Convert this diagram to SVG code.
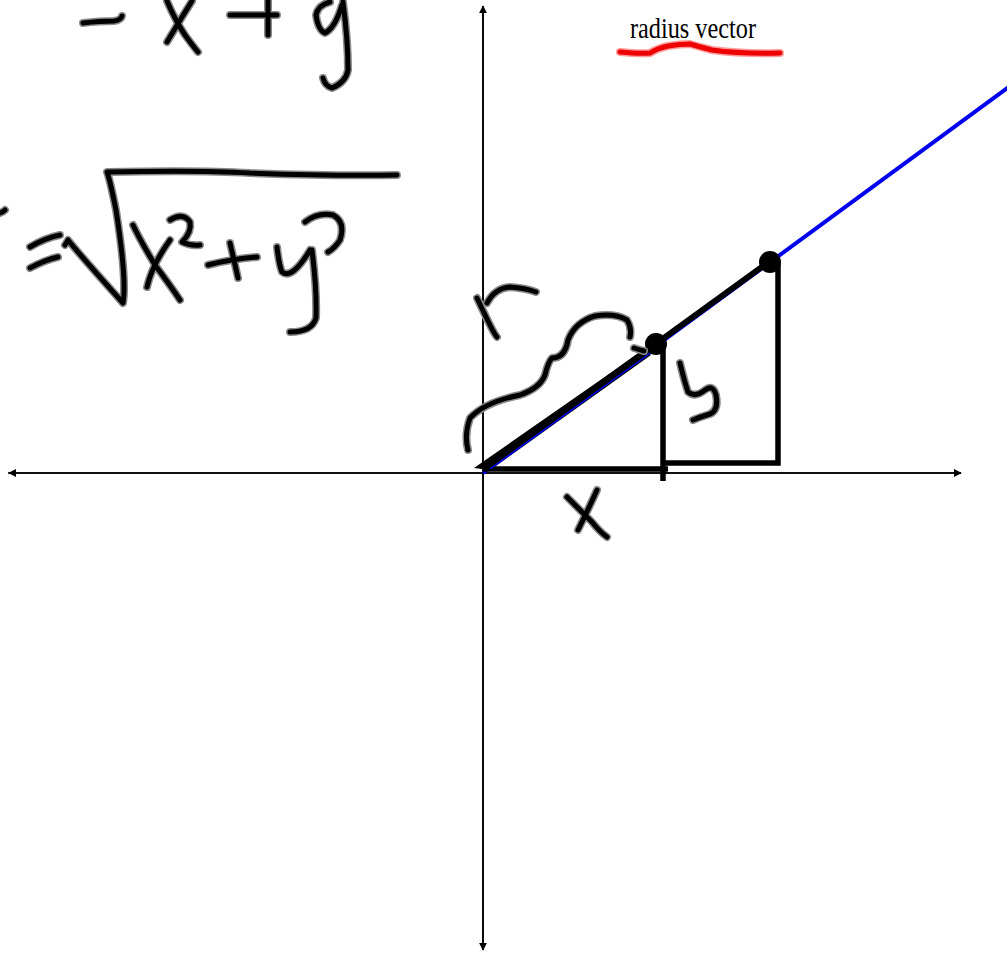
<svg xmlns="http://www.w3.org/2000/svg" width="1007" height="953" viewBox="0 0 1007 953">
<style>
.axis{stroke:#000;stroke-width:1.6;fill:none}
.ink{fill:none;stroke-linecap:round;stroke-linejoin:round}
.halo{stroke:#8a8a8a;stroke-width:8}
.core{stroke:#000;stroke-width:5}
.geo{fill:none;stroke:#000;stroke-width:5.5;stroke-linejoin:miter}
</style>
<defs>
<marker id="ah" viewBox="0 0 10 10" refX="9" refY="5" markerWidth="5" markerHeight="5" orient="auto" markerUnits="strokeWidth">
<path d="M0,0 L10,5 L0,10 z" fill="#000"/>
</marker>
<g id="hw">
<path d="M83,23 Q100,21 114,21 Q121,20 122,16"/>
<path d="M167,1 Q175,20 185,35 Q193,46 198,52"/>
<path d="M192,1 Q180,20 167,42"/>
<path d="M230,15 L277,15"/>
<path d="M268,1 L268,35"/>
<path d="M330,2 Q318,5 316,15 Q318,30 325,33 Q335,28 342,5"/>
<path d="M343,2 Q348,40 348,70 Q346,82 332,88 Q325,86 323,78"/>
<path d="M0,213 Q3,212 5,210"/>
<path d="M30,247 Q45,238 60,235"/>
<path d="M30,268 Q45,260 58,257"/>
<path d="M65,245 L68,240 Q80,255 123,303 Q127,280 116,210 Q110,180 107,172 Q200,170 250,173 Q330,176 397,175"/>
<path d="M133,225 Q140,240 155,265 Q170,285 180,300"/>
<path d="M170,240 Q152,265 147,287"/>
<path d="M170,220 Q183,212 190,222 Q192,232 182,242 Q190,246 200,245"/>
<path d="M208,265 Q232,259 257,257"/>
<path d="M230,243 Q234,260 238,278"/>
<path d="M277,247 Q279,265 282,272 Q292,280 310,250"/>
<path d="M312,250 Q317,290 316,318 Q312,332 290,332"/>
<path d="M305,222 Q318,212 333,215 Q346,222 340,240 Q335,248 328,252"/>
<path d="M477,298 Q485,315 490,325 Q495,335 497,337"/>
<path d="M487,303 Q495,288 510,287 Q525,288 536,292"/>
<path d="M468,450 Q464,435 470,418 Q485,402 520,395 Q540,388 545,375 Q548,362 552,358 Q565,358 568,340 Q575,322 595,316 Q615,313 627,320 Q632,328 630,337"/>
<path d="M634,348 Q640,350 644,351"/>
<path d="M680,363 Q684,380 688,392 Q695,398 705,390 Q713,384 716,395 Q719,410 710,414 Q700,417 693,420"/>
<path d="M567,497 Q580,510 592,522 Q600,532 607,537"/>
<path d="M597,490 Q588,510 578,530"/>
</g>
</defs>
<g id="axes">
<line class="axis" x1="483" y1="948" x2="483" y2="6" marker-end="url(#ah)"/>
<line class="axis" x1="483" y1="8" x2="483" y2="950" marker-end="url(#ah)"/>
<line class="axis" x1="8" y1="473" x2="961" y2="473" marker-end="url(#ah)"/>
<line class="axis" x1="961" y1="473" x2="9" y2="473" marker-end="url(#ah)"/>
</g>
<g id="radius-vector">
<line x1="483" y1="473" x2="1010" y2="86" stroke="#0000ee" stroke-width="4"/>
</g>
<g id="triangles">
<path class="geo" d="M663,344 L663,481"/>
<path class="geo" d="M483,469 L668,469"/>
<path class="geo" d="M778,262 L778,463 L663,463"/>
<path d="M474,468 L645,349 L651,355 L490,470 Z" fill="#000"/>
<line x1="483" y1="469" x2="770" y2="261" stroke="#000" stroke-width="6"/>
<line x1="490" y1="469" x2="656" y2="349" stroke="#0000ee" stroke-width="1.5"/>
<circle cx="656" cy="344" r="11" fill="#000"/>
<circle cx="770" cy="262" r="11" fill="#000"/>
</g>
<g id="handwriting">
<use href="#hw" class="ink halo"/>
<use href="#hw" class="ink core"/>
</g>
<g id="label">
<path d="M620,52 Q640,54 650,53 Q658,48 668,46 Q680,44 690,44 Q700,47 712,50 Q740,54 780,53" fill="none" stroke="#ff9a9a" stroke-width="8" stroke-linecap="round"/>
<path d="M620,52 Q640,54 650,53 Q658,48 668,46 Q680,44 690,44 Q700,47 712,50 Q740,54 780,53" fill="none" stroke="#ee0000" stroke-width="5" stroke-linecap="round"/>
<text x="630" y="38" font-family="Liberation Serif, serif" font-size="29" textLength="126" lengthAdjust="spacingAndGlyphs" fill="#000">radius vector</text>
</g>
</svg>
